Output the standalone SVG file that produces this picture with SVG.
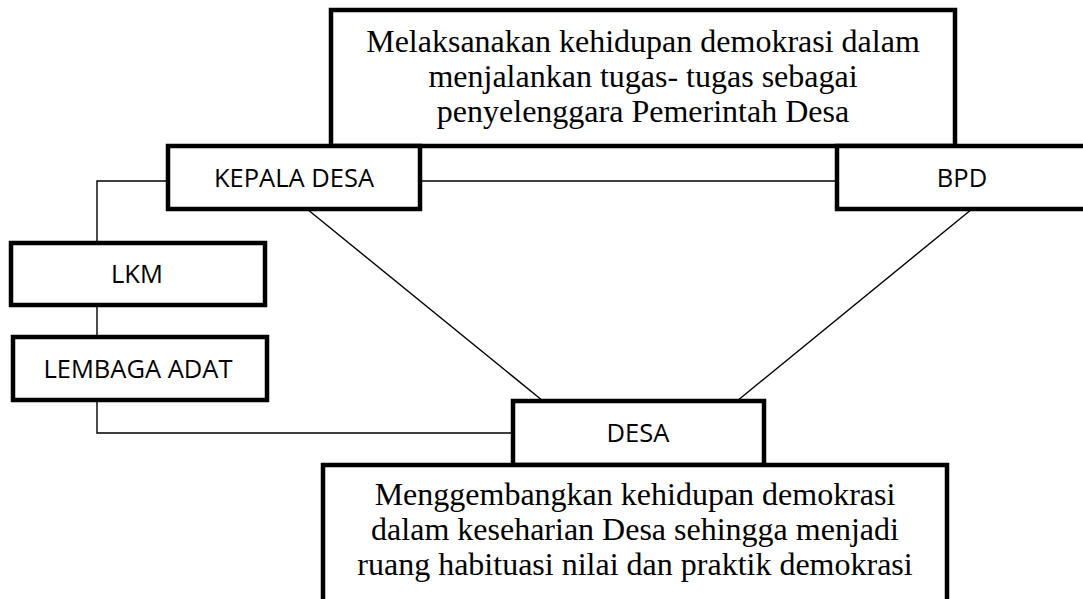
<svg xmlns="http://www.w3.org/2000/svg" width="1083" height="599" viewBox="0 0 1083 599">
<style>
.box{fill:#fff;stroke:#000;stroke-width:4.5}
.conn{fill:none;stroke:#000;stroke-width:1.4}
.sans{font-family:"Open Sans","Liberation Sans",sans-serif;font-size:25.5px;fill:#000;text-anchor:middle}
.serif{font-family:"Liberation Serif","Times New Roman",serif;font-size:32px;fill:#000;text-anchor:middle}
</style>
<rect width="1083" height="599" fill="#fff"/>
<g id="connectors">
<line class="conn" x1="420" y1="181" x2="837" y2="181"/>
<polyline class="conn" points="168,181 97,181 97,243"/>
<line class="conn" x1="97" y1="305" x2="97" y2="337"/>
<polyline class="conn" points="97,400 97,433 513,433"/>
<line class="conn" x1="307" y1="209" x2="543" y2="401"/>
<line class="conn" x1="972" y1="209" x2="737" y2="401"/>
</g>
<g id="top-box">
<rect class="box" x="331" y="10" width="624" height="136"/>
<text class="serif" x="643" y="52">Melaksanakan kehidupan demokrasi dalam</text>
<text class="serif" x="643" y="87">menjalankan tugas- tugas sebagai</text>
<text class="serif" x="643" y="122">penyelenggara Pemerintah Desa</text>
</g>
<g id="kepala-desa">
<rect class="box" x="168" y="146" width="252" height="63"/>
<text class="sans" x="294" y="187">KEPALA DESA</text>
</g>
<g id="bpd">
<rect class="box" x="837" y="146" width="260" height="63"/>
<text class="sans" x="962" y="187">BPD</text>
</g>
<g id="lkm">
<rect class="box" x="11" y="243" width="254" height="62"/>
<text class="sans" x="137" y="283">LKM</text>
</g>
<g id="lembaga-adat">
<rect class="box" x="13" y="337" width="254" height="63"/>
<text class="sans" x="138" y="378">LEMBAGA ADAT</text>
</g>
<g id="desa">
<rect class="box" x="513" y="401" width="251" height="64"/>
<text class="sans" x="638" y="442">DESA</text>
</g>
<g id="bottom-box">
<rect class="box" x="323" y="465" width="624" height="150"/>
<text class="serif" x="635" y="505">Menggembangkan kehidupan demokrasi</text>
<text class="serif" x="635" y="540">dalam keseharian Desa sehingga menjadi</text>
<text class="serif" x="635" y="575">ruang habituasi nilai dan praktik demokrasi</text>
</g>
</svg>
